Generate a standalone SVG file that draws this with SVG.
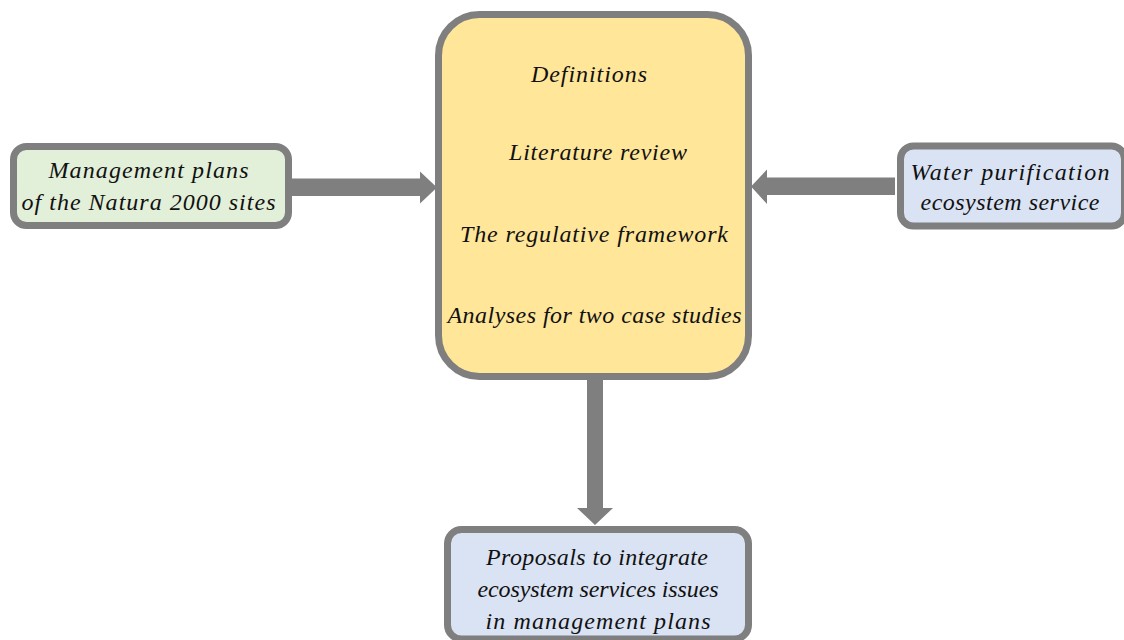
<svg xmlns="http://www.w3.org/2000/svg" width="1124" height="640" viewBox="0 0 1124 640">
  <style>
    .box { stroke: #7f7f7f; stroke-width: 7; }
    .green { fill: #e2efd9; }
    .yellow { fill: #ffe699; }
    .blue { fill: #dae3f3; }
    .arrow { fill: #7f7f7f; }
    text { font-family: "Liberation Serif", "Times New Roman", serif; font-style: italic; font-size: 24px; fill: #111111; text-anchor: middle; }
  </style>
  <rect width="1124" height="640" fill="#ffffff"/>

  <!-- connectors: block arrows into and out of the central box -->
  <g id="connectors">
    <polygon class="arrow" points="292,178.5 420,178.5 420,171.5 437,187.5 420,203.5 420,196 292,196"/>
    <polygon class="arrow" points="895,177.5 767,177.5 767,169.5 751,186.5 767,204 767,195 895,195"/>
    <polygon class="arrow" points="587,380 603,380 603,508 613,508 595,525 577,508 587,508"/>
  </g>

  <g id="node-management-plans">
    <rect class="box green" x="13.5" y="146.5" width="275" height="79" rx="13"/>
    <text x="148.5" y="178" textLength="200" lengthAdjust="spacing">Management plans</text>
    <text x="148.5" y="210" textLength="254" lengthAdjust="spacing">of the Natura 2000 sites</text>
  </g>

  <g id="node-core">
    <rect class="box yellow" x="438.5" y="14.5" width="310" height="362" rx="41"/>
    <text x="589" y="82" textLength="116" lengthAdjust="spacing">Definitions</text>
    <text x="598" y="159.5" textLength="178" lengthAdjust="spacing">Literature review</text>
    <text x="594" y="241.5" textLength="268" lengthAdjust="spacing">The regulative framework</text>
    <text x="594.5" y="322.5" textLength="294" lengthAdjust="spacing">Analyses for two case studies</text>
  </g>

  <g id="node-water-purification">
    <rect class="box blue" x="900.5" y="146" width="224" height="80" rx="13"/>
    <text x="1010" y="179.5" textLength="199" lengthAdjust="spacing">Water purification</text>
    <text x="1010" y="210" textLength="179" lengthAdjust="spacing">ecosystem service</text>
  </g>

  <g id="node-proposals">
    <rect class="box blue" x="447.5" y="529.5" width="301" height="109.5" rx="14"/>
    <text x="597" y="565" textLength="222" lengthAdjust="spacing">Proposals to integrate</text>
    <text x="598" y="597" textLength="241" lengthAdjust="spacing">ecosystem services issues</text>
    <text x="598" y="628.5" textLength="225" lengthAdjust="spacing">in management plans</text>
  </g>
</svg>
